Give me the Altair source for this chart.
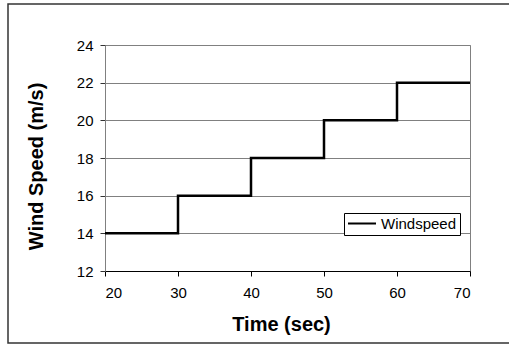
import altair as alt
import pandas as pd

time_sec = [20, 30, 30, 40, 40, 50, 50, 60, 60, 70]
wind_speed = [14, 14, 16, 16, 18, 18, 20, 20, 22, 22]
series = ["Windspeed"] * len(time_sec)
order = list(range(len(time_sec)))

df = pd.DataFrame({"Time": time_sec, "Speed": wind_speed, "Series": series, "order": order})

FONT = "Liberation Sans"

frame = alt.Chart(pd.DataFrame({"a": [0]})).mark_rect(
    fill=None, stroke="#333333", strokeWidth=1.5
).encode(
    x=alt.value(-97), x2=alt.value(430), y=alt.value(-41), y2=alt.value(298)
)

line = alt.Chart(df).mark_line(strokeWidth=2.5, clip=False).encode(
    x=alt.X("Time:Q", scale=alt.Scale(domain=[20, 70], nice=False),
            axis=alt.Axis(title="Time (sec)", values=[20, 30, 40, 50, 60, 70],
                          grid=False, domainColor="black", tickColor="black",
                          tickSize=5, labelPadding=9, labelFontSize=15,
                          labelFont=FONT, labelColor="black",
                          titleFont=FONT, titleFontSize=20, titleFontWeight="bold",
                          titleColor="black", titlePadding=14, titleX=176)),
    y=alt.Y("Speed:Q", scale=alt.Scale(domain=[12, 24], nice=False, zero=False),
            axis=alt.Axis(title="Wind Speed (m/s)", values=[12, 14, 16, 18, 20, 22, 24],
                          grid=True, gridColor="#808080", gridWidth=1,
                          domainColor="#808080", tickColor="#333333",
                          tickSize=5, labelPadding=7, labelFontSize=15,
                          labelFont=FONT, labelColor="black",
                          titleFont=FONT, titleFontSize=20, titleFontWeight="bold",
                          titleColor="black", titlePadding=30, titleY=121)),
    order="order:Q",
    color=alt.Color("Series:N", scale=alt.Scale(range=["black"]),
                    legend=alt.Legend(title=None, orient="none", legendX=239, legendY=168,
                                      strokeColor="black", fillColor="white",
                                      padding=3, symbolType="stroke",
                                      symbolStrokeWidth=2, symbolSize=784,
                                      clipHeight=15,
                                      labelFont=FONT, labelFontSize=15,
                                      labelColor="black", labelOffset=4)),
)

chart = alt.layer(frame, line).properties(
    width=365, height=226,
    autosize=alt.AutoSizeParams(type="none"),
    padding={"left": 105, "top": 45, "right": 39, "bottom": 74},
    background="white",
).configure_view(stroke="#808080", strokeWidth=1)

chart.save("out.html", embed_options={"renderer": "svg", "actions": False})
